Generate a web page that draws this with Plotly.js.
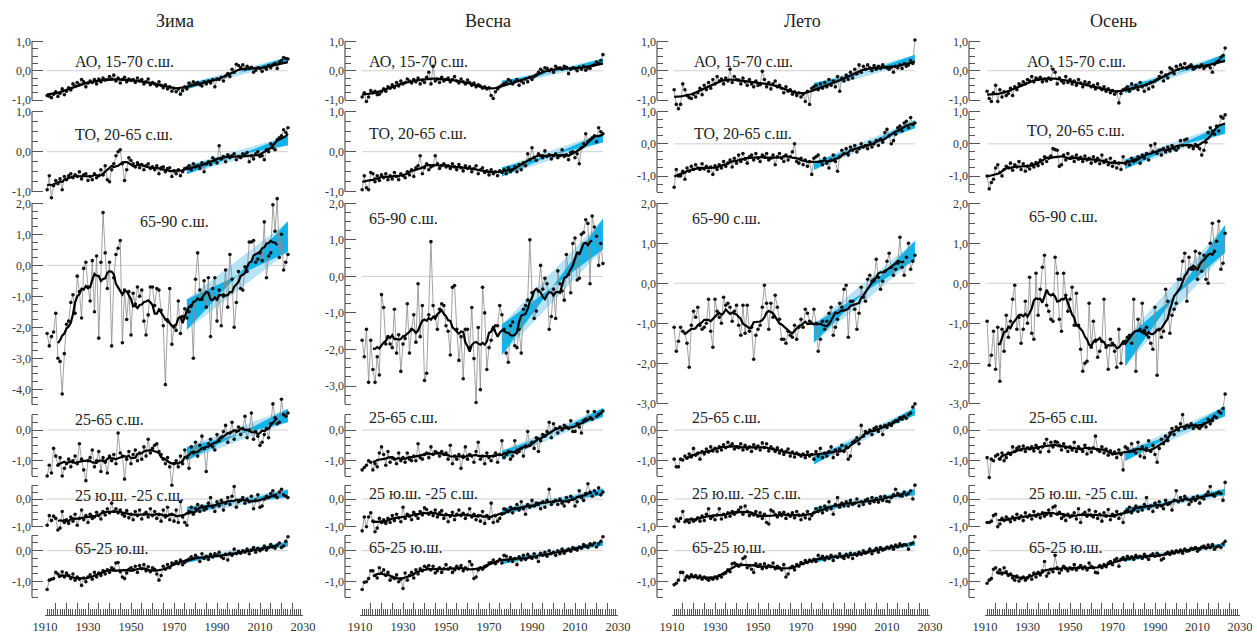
<!DOCTYPE html>
<html><head><meta charset="utf-8">
<script src="https://cdn.plot.ly/plotly-3.0.1.min.js"></script>
<style>body{margin:0;background:#fff}#chart{width:1257px;height:637px}</style>
</head><body><div id="chart"></div>
<script>
// ---------- DATA (anomalies, 1911–2023) ----------
const firstYear = 1911;
const seasons = ["Зима", "Весна", "Лето", "Осень"];
const regions = ["АО, 15-70 с.ш.", "ТО, 20-65 с.ш.", "65-90 с.ш.", "25-65 с.ш.", "25 ю.ш. -25 с.ш.", "65-25 ю.ш."];
const trendStart = 1976;
const xTickLabels = ["1910", "1930", "1950", "1970", "1990", "2010", "2030"];

const winter_AO = [-0.85,-0.87,-0.92,-0.80,-0.72,-0.88,-0.78,-0.62,-0.82,-0.70,
-0.58,-0.66,-0.45,-0.52,-0.40,-0.48,-0.30,-0.38,-0.55,-0.42,
-0.35,-0.40,-0.30,-0.45,-0.28,-0.38,-0.25,-0.32,-0.30,-0.20,
-0.28,-0.15,-0.35,-0.25,-0.42,-0.30,-0.22,-0.38,-0.28,-0.33,
-0.30,-0.40,-0.25,-0.35,-0.30,-0.45,-0.38,-0.28,-0.48,-0.40,
-0.45,-0.52,-0.38,-0.50,-0.58,-0.48,-0.62,-0.55,-0.70,-0.60,
-0.72,-0.62,-0.80,-0.68,-0.55,-0.62,-0.42,-0.50,-0.38,-0.45,
-0.40,-0.48,-0.52,-0.38,-0.45,-0.35,-0.42,-0.30,-0.55,-0.28,
-0.30,-0.22,-0.35,-0.18,-0.10,-0.20,0.05,-0.05,0.22,0.18,
0.10,0.20,0.05,0.15,0.08,0.12,-0.05,0.02,0.10,0.08,
-0.02,0.12,0.05,0.18,0.10,0.20,0.25,0.08,0.30,0.35,
0.45,0.42,0.40];
const winter_PO = [-0.95,-0.60,-1.15,-0.85,-0.72,-0.80,-0.68,-0.95,-0.62,-0.70,
-0.60,-0.55,-0.65,-0.58,-0.62,-0.50,-0.68,-0.58,-0.55,-0.72,
-0.62,-0.70,-0.55,-0.65,-0.60,-0.45,-0.58,-0.35,-0.70,-0.75,
-0.45,-0.30,-0.10,0.00,0.05,-0.30,-0.72,-0.45,-0.15,-0.22,
-0.30,-0.38,-0.28,-0.40,-0.32,-0.45,-0.35,-0.30,-0.42,-0.38,
-0.45,-0.35,-0.55,-0.40,-0.38,-0.50,-0.42,-0.40,-0.62,-0.48,
-0.55,-0.45,-0.60,-0.50,-0.42,-0.40,-0.35,-0.45,-0.30,-0.38,
-0.35,-0.42,-0.28,-0.50,-0.30,-0.25,-0.32,-0.15,-0.20,-0.28,
0.15,-0.18,-0.12,-0.25,-0.08,-0.15,-0.10,-0.05,-0.20,-0.12,
-0.15,-0.05,-0.08,-0.02,-0.25,-0.10,-0.18,-0.05,0.00,-0.12,
-0.10,-0.20,0.05,0.00,0.20,0.10,0.05,0.30,0.35,0.40,
0.55,0.48,0.60];
const winter_N65_90 = [-2.2,-2.6,-2.3,-2.15,-1.55,-3.0,-3.1,-4.15,-2.85,-1.9,
-1.8,-1.2,-0.95,-1.55,-0.35,-0.85,-1.7,-0.1,0.1,-0.7,
-1.15,0.15,-1.5,0.3,-2.35,0.1,1.7,0.4,-0.75,0.1,
-2.6,-0.4,0.35,0.55,0.8,-2.5,-0.8,-1.75,-0.85,-2.25,
-0.9,-1.25,-0.7,-1.0,-0.8,-1.8,-2.25,-1.6,-0.7,-0.7,
-1.3,-0.75,-0.8,-1.45,-1.95,-3.85,-1.8,-0.75,-2.55,-2.0,
-2.1,-1.15,-2.2,-1.65,-1.4,-1.7,-1.5,-1.3,-3.0,-0.45,
0.4,-0.8,-1.1,-0.5,-1.35,-0.4,-2.3,-0.75,-0.4,-1.8,
-0.8,-1.95,-1.0,-0.15,-1.35,0.35,-0.45,-2.0,-1.2,-0.2,
-0.75,-0.8,-0.05,-0.2,0.75,0.75,0.8,0.1,0.2,0.4,
0.15,1.4,-0.4,0.3,0.4,1.95,1.1,2.15,0.25,1.0,
-0.15,0.1,0.35];
const winter_N25_65 = [-1.50,-1.15,-1.40,-0.60,-0.85,-1.15,-0.90,-1.50,-1.25,-1.10,
-0.95,-1.20,-1.00,-0.85,-1.10,-0.45,-0.95,-1.30,-1.65,-1.00,
-0.90,-0.65,-1.20,-1.00,-0.70,-1.35,-0.90,-1.05,-1.40,-0.85,
-1.00,-0.80,-1.10,-0.10,-0.75,-0.85,-1.60,-0.95,-0.70,-1.10,
-0.80,-0.65,-1.00,-0.75,-0.95,-0.55,-0.85,-0.30,-0.75,-0.60,
-0.50,-0.45,-0.70,-0.80,-0.95,-1.10,-0.90,-1.20,-1.80,-1.10,
-1.00,-1.20,-0.85,-1.10,-0.65,-0.90,-1.25,-0.55,-0.75,-0.40,
-0.85,-0.50,-0.20,-0.60,-1.35,-0.45,-0.30,-0.55,-0.65,-0.15,
-0.35,-0.25,-0.05,0.15,-0.40,-0.10,0.25,-0.30,-0.05,0.10,
-0.15,0.05,0.45,-0.25,0.00,0.55,-0.30,-0.05,-0.20,-0.50,
-0.40,-0.15,0.05,-0.25,0.20,0.85,0.40,0.20,0.25,1.00,
0.50,0.45,0.55];
const winter_S25_N25 = [-0.95,-0.60,-0.78,-0.62,-0.70,-1.12,-1.05,-0.45,-0.85,-0.75,
-0.88,-0.65,-0.80,-0.55,-0.95,-0.70,-0.40,-0.75,-0.60,-0.85,
-0.55,-0.70,-0.65,-0.48,-0.60,-0.72,-0.45,-0.58,-0.35,-0.50,
-0.15,-0.45,-0.35,-0.50,-0.40,-0.55,-0.62,-0.42,-0.68,-0.55,
-0.75,-0.45,-0.60,-0.40,-0.72,-0.55,-0.48,-0.65,-0.35,-0.60,
-0.45,-0.70,-0.55,-0.80,-0.40,-0.65,-0.30,-0.75,-0.55,-0.80,
-0.40,-0.85,-0.10,-0.65,-0.85,-0.95,-0.45,-0.30,-0.55,-0.35,
-0.20,-0.45,-0.25,-0.40,-0.35,-0.15,0.05,-0.30,-0.45,-0.10,
-0.25,-0.05,-0.40,-0.15,0.05,-0.20,0.10,0.45,-0.30,-0.10,
-0.05,0.05,-0.15,0.00,-0.10,0.10,-0.35,-0.05,0.15,-0.30,
-0.25,0.00,0.10,0.05,0.20,0.30,0.10,0.05,0.25,0.35,
0.15,0.10,0.05];
const winter_S65_S25 = [-1.25,-0.95,-0.92,-0.90,-0.70,-0.75,-0.82,-0.68,-0.85,-0.72,
-0.80,-0.90,-0.75,-0.95,-0.85,-0.92,-1.12,-0.88,-1.00,-0.85,
-0.78,-0.92,-0.70,-0.85,-0.72,-0.80,-0.65,-0.75,-0.62,-0.70,
-0.55,-0.60,-0.40,-0.38,-0.68,-0.85,-0.90,-0.72,-0.60,-0.55,
-0.62,-0.50,-0.70,-0.48,-0.58,-0.45,-0.65,-0.52,-0.68,-0.55,
-0.60,-0.75,-0.95,-0.80,-0.50,-0.60,-0.45,-0.55,-0.40,-0.42,
-0.35,-0.42,-0.30,-0.45,-0.38,-0.32,-0.28,-0.20,-0.25,-0.15,
-0.22,-0.35,-0.10,-0.25,-0.18,-0.28,-0.12,-0.20,-0.10,-0.15,
-0.05,-0.20,-0.25,-0.12,-0.30,-0.08,-0.15,0.05,-0.10,-0.02,
-0.08,0.00,-0.05,0.05,-0.10,0.02,0.10,-0.05,0.08,0.00,
0.05,0.15,0.02,0.10,0.20,0.12,0.08,0.18,0.25,0.10,
0.15,0.30,0.45];

const spring_AO = [-0.90,-0.75,-1.05,-0.90,-0.68,-0.75,-0.70,-0.82,-0.80,-0.72,
-0.62,-0.70,-0.55,-0.60,-0.48,-0.58,-0.40,-0.52,-0.35,-0.45,
-0.40,-0.28,-0.35,-0.42,-0.30,-0.38,-0.25,-0.45,-0.32,-0.40,
-0.22,-0.05,-0.45,0.15,-0.35,-0.28,-0.40,-0.22,-0.35,-0.30,
-0.25,-0.38,-0.30,-0.20,-0.35,-0.42,-0.28,-0.38,-0.45,-0.32,
-0.40,-0.50,-0.42,-0.55,-0.48,-0.52,-0.60,-0.55,-0.62,-0.58,
-0.85,-0.95,-0.72,-0.62,-0.55,-0.50,-0.45,-0.40,-0.30,-0.35,
-0.45,-0.38,-0.30,-0.50,-0.35,-0.42,-0.28,-0.38,-0.22,-0.30,
-0.20,-0.15,-0.05,0.05,-0.02,0.10,0.08,0.00,0.05,-0.05,
0.15,0.08,0.10,0.05,0.15,0.12,-0.10,0.05,0.10,0.08,
0.00,0.12,0.05,0.15,0.02,0.10,0.08,0.18,0.20,0.30,
0.25,0.35,0.55];
const spring_PO = [-0.95,-0.60,-0.90,-0.95,-0.52,-0.55,-0.75,-0.60,-0.72,-0.58,
-0.65,-0.55,-0.70,-0.60,-0.68,-0.52,-0.62,-0.70,-0.55,-0.60,
-0.65,-0.50,-0.58,-0.45,-0.62,-0.40,-0.35,-0.10,-0.55,-0.40,
-0.30,-0.45,-0.38,-0.35,-0.10,-0.30,-0.42,-0.35,-0.30,-0.38,
-0.35,-0.42,-0.30,-0.38,-0.45,-0.32,-0.40,-0.48,-0.35,-0.42,
-0.38,-0.50,-0.42,-0.35,-0.55,-0.45,-0.40,-0.52,-0.48,-0.58,
-0.45,-0.55,-0.50,-0.60,-0.48,-0.52,-0.45,-0.55,-0.40,-0.50,
-0.45,-0.38,-0.50,-0.32,-0.45,-0.28,-0.35,-0.05,-0.20,0.10,
-0.15,-0.22,-0.05,-0.10,-0.15,0.02,-0.12,-0.08,-0.18,-0.10,
-0.05,-0.15,-0.10,0.05,-0.12,-0.08,-0.20,-0.02,0.00,-0.15,
-0.05,-0.30,0.10,0.20,0.45,0.25,0.30,0.35,0.40,0.25,
0.60,0.50,0.45];
const spring_N65_90 = [-1.75,-2.2,-1.45,-2.9,-1.75,-2.55,-2.9,-2.2,-2.7,-0.5,
-0.85,-1.85,-1.65,-1.85,-1.95,-0.9,-2.1,-1.6,-2.6,-1.85,
-1.7,-0.75,-2.1,-1.45,-1.05,-1.8,-0.2,-1.65,-0.8,-2.85,
-2.65,-1.05,0.95,-0.8,-1.1,-1.45,-0.9,-0.75,-0.8,-1.35,
-1.5,-2.15,-0.3,-0.25,-1.45,-2.3,-1.65,-2.8,-1.45,-1.45,
-1.95,-0.85,-2.25,-3.45,-1.4,-3.1,-0.3,-1.0,-2.55,-1.95,
-1.75,-1.45,-1.35,-1.35,-0.8,-1.05,-1.45,-2.1,-2.35,-1.35,
-1.25,-1.9,-1.95,-1.45,-2.1,-0.9,-0.8,-0.65,1.0,-0.45,
-1.15,-0.95,-0.4,0.3,-0.35,-0.05,-0.2,-1.45,-1.1,-0.35,
-1.15,0.15,-0.2,-0.4,-0.65,0.6,0.05,-0.45,0.9,1.05,
-0.1,-0.05,1.15,1.2,1.55,1.45,-0.2,1.65,1.35,1.1,
0.3,0.9,0.35];
const spring_N25_65 = [-1.30,-1.22,-1.15,-1.00,-1.05,-1.30,-1.10,-1.20,-0.75,-0.55,
-0.80,-1.15,-0.70,-1.05,-0.90,-0.95,-1.10,-0.75,-1.00,-0.90,
-1.05,-0.75,-0.95,-1.00,-0.85,-1.00,-0.45,-0.90,-0.95,-0.80,
-0.75,-0.90,-0.55,-0.80,-0.70,-0.75,-0.85,-0.70,-0.80,-0.75,
-0.95,-0.50,-1.10,-0.85,-0.95,-0.80,-1.25,-0.85,-0.55,-0.95,
-0.80,-0.85,-1.05,-0.70,-0.40,-0.95,-0.85,-1.10,-0.75,-0.90,
-1.00,-0.85,-0.75,-1.05,-0.80,-0.35,-0.90,-0.80,-0.70,-0.95,
-0.85,-0.35,-0.75,-0.70,-0.60,-0.85,-0.55,-0.05,-0.50,-0.40,
-0.60,-0.25,-0.70,-0.35,-0.15,-0.20,-0.05,0.25,-0.25,0.20,
0.05,-0.10,0.10,0.00,0.15,0.10,0.05,0.30,-0.05,-0.05,
0.20,0.10,-0.10,0.30,0.35,0.60,0.40,0.35,0.60,0.45,
0.50,0.55,0.62];
const spring_S25_N25 = [-1.15,-0.65,-1.00,-0.65,-0.50,-0.80,-1.18,-1.05,-0.70,-0.85,
-0.75,-0.88,-0.70,-0.85,-0.60,-0.78,-0.55,-0.68,-0.82,-0.30,
-0.70,-0.55,-0.62,-0.75,-0.48,-0.60,-0.70,-0.45,-0.58,-0.32,
-0.38,-0.55,-0.48,-0.60,-0.40,-0.65,-0.50,-0.42,-0.70,-0.55,
-0.82,-0.62,-0.48,-0.75,-0.55,-0.40,-0.60,-0.52,-0.70,-0.58,
-0.35,-0.65,-0.55,-0.75,-0.60,-0.80,-0.45,-0.88,-0.60,-0.70,
-0.15,-0.85,-0.60,-0.80,-0.70,-0.55,-0.35,-0.40,-0.45,-0.30,
-0.50,-0.35,-0.20,-0.40,-0.10,-0.35,-0.55,-0.20,-0.30,-0.05,
-0.25,-0.15,-0.20,-0.35,-0.10,-0.30,-0.05,0.35,-0.20,-0.10,
-0.05,-0.20,0.00,-0.15,-0.25,0.05,-0.10,0.10,0.00,-0.25,
-0.10,0.30,0.05,-0.05,0.20,0.55,0.25,0.10,0.30,0.20,
0.40,0.15,0.25];
const spring_S65_S25 = [-1.25,-1.02,-1.00,-0.90,-0.65,-0.65,-0.80,-0.88,-0.55,-0.72,
-0.62,-0.80,-0.70,-0.95,-0.85,-0.90,-0.78,-1.00,-0.92,-1.22,
-0.72,-0.95,-0.80,-0.70,-0.88,-0.62,-0.75,-0.58,-0.65,-0.50,
-0.55,-0.48,-0.62,-0.50,-0.72,-0.65,-0.55,-0.70,-0.58,-0.45,
-0.60,-0.55,-0.70,-0.62,-0.50,-0.58,-0.48,-0.65,-0.55,-0.60,
-0.35,-0.45,-0.90,-0.85,-0.62,-0.55,-0.60,-0.50,-0.48,-0.40,
-0.38,-0.30,-0.42,-0.35,-0.28,-0.40,-0.15,-0.18,-0.32,-0.22,
-0.35,-0.25,-0.45,-0.20,-0.30,-0.15,-0.28,-0.12,-0.20,-0.25,
-0.10,-0.22,-0.35,-0.08,-0.15,-0.05,-0.18,0.00,-0.10,-0.05,
-0.15,0.00,-0.10,0.05,-0.08,0.00,0.05,-0.02,0.10,0.05,
0.02,0.12,0.08,0.20,0.15,0.10,0.22,0.18,0.25,0.12,
0.22,0.30,0.45];

const summer_AO = [-0.65,-1.15,-1.30,-1.15,-0.45,-0.65,-0.85,-0.92,-0.95,-0.80,
-0.90,-0.75,-0.60,-0.82,-0.50,-0.65,-0.40,-0.60,-0.30,-0.45,
-0.20,-0.35,-0.28,-0.45,-0.25,-0.35,0.05,-0.40,-0.20,-0.30,
-0.32,-0.45,-0.25,-0.38,-0.50,-0.30,-0.45,-0.55,-0.35,-0.50,
-0.48,-0.02,-0.30,-0.55,-0.40,-0.62,-0.45,-0.35,-0.55,-0.50,
-0.60,-0.75,-0.55,-0.70,-0.65,-0.80,-0.72,-0.85,-0.75,-0.90,
-0.80,-1.05,-0.70,-1.15,-0.60,-0.55,-0.50,-0.65,-0.45,-0.60,
-0.40,-0.55,-0.30,-0.50,-0.35,-0.55,-0.20,-0.70,-0.25,-0.35,
-0.15,-0.30,-0.05,-0.25,0.05,-0.10,0.20,-0.05,0.15,0.05,
0.20,0.10,0.00,0.18,0.05,0.15,0.08,0.20,0.12,0.10,
0.05,0.12,-0.05,0.15,0.10,0.20,0.08,0.25,0.15,0.20,
0.35,0.25,1.05];
const summer_PO = [-1.35,-0.80,-1.00,-1.00,-0.85,-1.10,-0.75,-0.85,-0.70,-0.80,
-0.65,-0.75,-0.80,-0.62,-0.78,-0.70,-0.85,-0.72,-0.95,-0.68,
-0.80,-0.65,-0.75,-0.55,-0.70,-0.60,-0.50,-0.72,-0.45,-0.60,
-0.35,-0.55,-0.30,-0.48,-0.60,-0.40,-0.35,-0.50,-0.30,-0.45,
-0.55,-0.35,-0.40,-0.30,-0.50,-0.45,-0.35,-0.65,-0.40,-0.30,
-0.45,-0.55,-0.35,-0.50,-0.40,-0.25,0.00,-0.55,-0.60,-0.45,
-0.65,-0.50,-0.70,-0.55,-0.95,-0.45,-0.40,-0.35,-0.55,-0.65,
-0.45,-0.60,-0.75,-0.50,-0.35,-0.55,-0.85,-0.40,-0.20,-0.30,
-0.15,-0.35,-0.10,-0.20,-0.05,-0.25,-0.15,0.00,-0.10,-0.05,
-0.15,0.05,-0.10,0.00,0.10,-0.05,0.15,0.05,0.35,0.45,
0.25,0.00,0.10,0.30,0.50,0.55,0.40,0.65,0.70,0.50,
0.82,0.60,0.65];
const summer_N65_90 = [-1.1,-1.7,-1.45,-1.1,-1.2,-1.25,-1.5,-2.1,-1.05,-0.7,
-0.85,-0.6,-1.05,-1.15,-1.1,-1.0,-0.4,-1.2,-1.6,-0.4,
-0.7,-0.85,-1.0,-0.35,-0.55,-0.5,-0.6,-0.95,-0.7,-0.55,
-1.05,-1.3,-0.55,-1.25,-0.55,-1.2,-1.1,-1.9,-1.3,-1.15,
-1.05,-0.6,-0.05,-0.5,-1.15,-0.5,-0.85,-0.3,-0.6,-0.9,
-1.4,-1.4,-1.5,-1.2,-1.3,-1.35,-1.05,-1.4,-1.1,-0.9,
-1.1,-0.65,-0.75,-0.95,-1.0,-0.65,-1.0,-1.7,-1.4,-0.95,
-1.15,-0.95,-0.75,-0.6,-1.3,-1.1,-0.9,-0.5,-0.6,-0.15,
-0.05,-1.35,-0.45,-0.45,-0.65,-1.15,-0.75,-0.1,-0.35,-0.45,
0.1,0.2,0.05,0.1,0.6,0.15,-0.15,0.05,0.3,0.55,
0.75,0.4,0.2,0.35,0.5,1.15,0.4,0.2,0.65,1.0,
0.35,0.55,0.7];
const summer_N25_65 = [-0.95,-1.20,-1.20,-0.95,-0.98,-0.85,-0.92,-0.78,-0.88,-0.60,
-0.82,-0.75,-0.95,-0.70,-0.78,-0.62,-0.72,-0.55,-0.68,-0.60,
-0.70,-0.55,-0.65,-0.48,-0.58,-0.40,-0.52,-0.45,-0.62,-0.55,
-0.58,-0.45,-0.65,-0.50,-0.62,-0.55,-0.70,-0.48,-0.60,-0.52,
-0.65,-0.42,-0.58,-0.45,-0.68,-0.55,-0.62,-0.70,-0.58,-0.75,
-0.65,-0.80,-0.70,-0.62,-0.85,-0.72,-0.88,-0.75,-0.80,-0.85,
-0.78,-0.90,-0.72,-0.85,-0.80,-0.95,-0.70,-0.85,-0.60,-0.90,
-0.75,-0.85,-0.70,-0.55,-0.90,-0.65,-0.80,-0.62,-0.50,-0.70,
-0.55,-0.95,-0.85,-0.40,-0.35,-0.25,-0.45,0.15,-0.20,-0.05,
-0.10,0.00,-0.15,0.05,0.10,-0.05,0.12,-0.15,0.15,0.08,
0.20,0.15,0.25,0.30,0.28,0.40,0.35,0.45,0.38,0.50,
0.55,0.75,0.85];
const summer_S25_N25 = [-1.00,-0.72,-0.80,-0.70,-0.45,-0.82,-0.78,-0.85,-0.72,-0.80,
-0.75,-0.68,-0.80,-0.62,-0.78,-0.55,-0.35,-0.70,-0.62,-0.75,
-0.58,-0.35,-0.72,-0.55,-0.65,-0.50,-0.62,-0.45,-0.55,-0.48,
-0.40,-0.30,-0.55,-0.25,-0.45,-0.60,-0.52,-0.58,-0.45,-0.62,
-0.50,-0.70,-0.55,-0.85,-0.90,-0.40,-0.45,-0.55,-0.65,-0.50,
-0.60,-0.48,-0.70,-0.55,-0.62,-0.50,-0.68,-0.45,-0.58,-0.75,
-0.55,-0.68,-0.45,-0.72,-0.60,-0.50,-0.35,-0.45,-0.30,-0.50,
-0.25,-0.40,-0.10,-0.35,-0.55,-0.20,0.05,-0.30,-0.15,-0.25,
-0.10,-0.25,-0.05,-0.20,-0.15,0.00,-0.25,-0.10,-0.20,-0.05,
0.00,-0.15,0.05,-0.10,0.02,-0.12,0.08,-0.05,0.10,-0.08,
-0.10,0.05,0.15,0.35,0.20,0.12,0.10,0.25,0.15,0.20,
0.30,0.00,0.50];
const summer_S65_S25 = [-1.10,-1.05,-0.95,-0.70,-0.70,-0.95,-0.82,-0.88,-0.78,-0.85,
-0.80,-0.88,-0.82,-0.92,-0.85,-0.90,-0.95,-0.88,-0.92,-0.85,
-0.90,-0.80,-0.85,-0.75,-0.72,-0.62,-0.68,-0.42,-0.40,-0.45,
-0.50,-0.45,-0.25,-0.20,-0.55,-0.48,-0.60,-0.70,-0.42,-0.50,
-0.45,-0.58,-0.42,-0.55,-0.48,-0.52,-0.40,-0.58,-0.50,-0.55,
-0.62,-0.45,-0.85,-0.75,-0.55,-0.50,-0.62,-0.45,-0.50,-0.38,
-0.42,-0.32,-0.38,-0.30,-0.35,-0.28,-0.35,-0.15,-0.25,-0.18,
-0.30,-0.20,-0.25,-0.15,-0.32,-0.18,-0.22,-0.10,-0.20,-0.25,
-0.12,-0.20,-0.08,-0.25,-0.10,-0.15,-0.05,-0.12,0.00,-0.08,
-0.05,0.05,-0.10,0.00,0.08,-0.05,0.10,0.02,0.05,0.12,
0.08,0.15,0.05,0.18,0.12,0.22,0.15,0.20,0.18,0.05,
0.22,0.25,0.45];

const autumn_AO = [-0.70,-0.95,-1.05,-0.75,-0.50,-1.05,-0.65,-0.90,-0.72,-0.85,
-0.78,-0.60,-0.85,-0.55,-0.65,-0.45,-0.50,-0.38,-0.45,-0.30,
-0.35,-0.20,-0.38,-0.25,-0.30,-0.22,-0.38,-0.28,-0.35,-0.25,
-0.30,0.05,-0.05,-0.45,-0.25,-0.35,-0.42,-0.20,-0.40,-0.30,
-0.45,-0.35,-0.50,-0.30,-0.42,-0.55,-0.38,-0.48,-0.40,-0.55,
-0.50,-0.62,-0.45,-0.58,-0.65,-0.55,-0.70,-0.62,-0.75,-0.68,
-0.80,-0.72,-1.10,-0.78,-0.65,-0.62,-0.55,-0.70,-0.45,-0.60,
-0.50,-0.65,-0.40,-0.55,-0.70,-0.48,-0.62,-0.40,-0.55,-0.35,
-0.30,-0.20,-0.05,-0.35,-0.15,-0.25,0.10,0.05,-0.10,0.15,
0.05,0.20,0.10,0.25,0.08,0.15,0.20,0.05,0.10,0.15,
0.12,0.20,0.08,0.15,0.18,0.10,-0.05,0.22,0.30,0.35,
0.45,0.52,0.78];
const autumn_PO = [-1.00,-1.40,-1.20,-1.10,-0.75,-0.65,-0.90,-1.00,-0.80,-0.70,
-0.75,-0.60,-0.82,-0.65,-0.72,-0.55,-0.80,-0.62,-0.85,-0.70,
-0.78,-0.62,-0.72,-0.58,-0.68,-0.50,-0.62,-0.40,-0.55,-0.45,
-0.38,-0.15,-0.18,-0.20,-0.70,-0.65,-0.35,-0.50,-0.30,-0.45,
-0.40,-0.55,-0.35,-0.48,-0.42,-0.55,-0.38,-0.50,-0.45,-0.60,
-0.40,-0.55,-0.45,-0.62,-0.35,-0.58,-0.50,-0.65,-0.45,-0.70,
-0.55,-0.75,-0.60,-0.80,-0.40,-0.62,-0.55,-0.65,-0.45,-0.55,
-0.50,-0.40,-0.60,-0.35,-0.45,-0.30,-0.50,-0.05,-0.25,0.00,
-0.30,-0.20,-0.35,-0.15,-0.25,-0.10,-0.22,-0.05,-0.15,-0.20,
-0.12,0.10,-0.05,0.12,0.15,-0.10,-0.05,-0.15,-0.02,-0.08,
-0.15,-0.35,-0.20,0.05,0.35,0.50,0.40,0.30,0.55,0.40,
0.85,0.80,0.90];
const autumn_N65_90 = [-0.95,-2.05,-1.8,-1.2,-2.15,-1.1,-2.45,-1.15,-1.7,-0.8,
-1.35,-0.95,-0.4,-0.05,-1.15,-0.85,-1.5,-1.15,-0.45,-1.0,
0.15,-1.25,-1.4,0.25,-0.8,-0.15,0.4,0.7,-0.55,-0.7,
-0.9,-0.95,0.65,0.25,-0.9,-1.2,0.25,-0.3,-0.7,-0.4,
-0.1,-1.05,-0.25,-1.05,-1.65,-2.2,-2.0,-1.95,-0.5,-1.6,
-0.95,-1.45,-1.85,-1.7,-1.45,-0.4,-1.6,-2.15,-1.4,-1.5,
-1.7,-2.1,-1.15,-2.0,-1.5,-1.45,-1.35,-1.3,-1.5,-0.4,
-2.2,-0.9,-1.15,-0.5,-1.25,-1.1,-1.35,-1.5,-1.65,-0.6,
-2.3,-1.15,-1.35,-1.2,-0.15,-0.45,-1.25,-0.8,-0.65,-0.5,
0.1,0.1,0.55,0.75,-0.45,0.65,0.35,0.35,0.8,0.1,
0.75,0.3,0.7,0.1,0.0,1.0,1.5,0.8,1.05,1.55,
0.35,0.5,1.25];
const autumn_N25_65 = [-0.90,-1.55,-0.95,-1.00,-0.85,-0.80,-0.95,-0.75,-1.00,-0.90,
-0.75,-0.80,-0.55,-0.70,-0.60,-0.55,-0.65,-0.52,-0.70,-0.58,
-0.62,-0.55,-0.68,-0.50,-0.60,-0.72,-0.55,-0.45,-0.30,-0.70,
-0.40,-0.55,-0.38,-0.40,-0.50,-0.65,-0.45,-0.58,-0.70,-0.55,
-0.65,-0.40,-0.70,-0.55,-0.62,-0.70,-0.50,-0.78,-0.60,-0.72,
-0.58,-0.20,-0.65,-0.70,-0.55,-0.75,-0.62,-0.82,-0.68,-0.78,
-0.72,-0.90,-0.65,-0.80,-1.30,-0.55,-0.60,-0.70,-0.45,-0.65,
-0.75,-0.40,-0.85,-0.55,-0.90,-0.60,-0.35,-0.70,-0.50,-0.80,
-1.05,-0.60,-0.30,-0.45,-0.20,-0.35,-0.10,0.05,-0.15,0.10,
0.00,0.20,0.50,0.05,0.15,0.10,0.20,0.05,0.15,0.10,
0.05,0.12,0.20,0.10,0.35,0.20,0.30,0.45,0.40,0.60,
0.55,0.70,1.17];
const autumn_S25_N25 = [-0.85,-0.85,-0.80,-0.60,-0.55,-1.00,-0.90,-0.70,-0.78,-0.65,
-0.72,-0.82,-0.65,-0.75,-0.55,-0.70,-0.62,-0.78,-0.50,-0.65,
-0.58,-0.72,-0.45,-0.62,-0.55,-0.68,-0.50,-0.62,-0.55,-0.40,
-0.60,-0.30,-0.25,-0.55,-0.48,-0.70,-0.62,-0.78,-0.55,-0.65,
-0.60,-0.50,-0.72,-0.35,-0.85,-0.55,-0.48,-0.62,-0.40,-0.58,
-0.65,-0.45,-0.70,-0.55,-0.80,-0.50,-0.62,-0.38,-0.75,-0.55,
-0.62,-0.45,-0.70,-0.55,-0.85,-0.45,-0.40,-0.30,-0.50,-0.35,
-0.25,-0.45,-0.30,-0.40,-0.20,0.05,-0.35,-0.25,-0.45,-0.15,
-0.30,-0.10,-0.25,-0.35,-0.05,-0.20,-0.15,-0.40,-0.05,0.30,
-0.10,0.05,-0.05,0.10,0.00,-0.20,-0.10,0.05,-0.05,0.10,
-0.15,0.05,0.00,0.15,0.25,0.45,0.15,0.10,0.20,0.25,
0.20,-0.05,0.60];
const autumn_S65_S25 = [-1.05,-0.95,-0.90,-0.60,-0.55,-0.70,-0.62,-0.75,-0.55,-0.68,
-0.80,-0.75,-0.88,-0.95,-0.82,-0.98,-0.90,-0.85,-0.95,-0.88,
-0.80,-0.92,-0.72,-0.85,-0.70,-0.78,-0.65,-0.35,-0.82,-0.72,
-0.60,-0.68,-0.15,-0.55,-0.72,-0.62,-0.50,-0.58,-0.65,-0.55,
-0.60,-0.45,-0.62,-0.55,-0.48,-0.58,-0.52,-0.62,-0.40,-0.50,
-0.55,-0.70,-0.72,-0.48,-0.55,-0.45,-0.52,-0.40,-0.35,-0.45,
-0.30,-0.25,-0.50,-0.28,-0.22,-0.30,-0.18,-0.25,-0.20,-0.28,
-0.15,-0.22,-0.18,-0.25,-0.12,-0.20,-0.28,-0.15,-0.10,-0.18,
-0.08,-0.15,-0.30,-0.25,-0.10,-0.05,-0.12,-0.02,-0.08,0.00,
-0.05,0.02,-0.08,0.05,-0.02,0.00,0.08,0.05,0.10,-0.02,
0.05,0.12,0.15,0.08,0.18,0.10,0.20,0.05,0.12,0.15,
0.10,0.22,0.30];

const seriesBySeason = [
  [winter_AO, winter_PO, winter_N65_90, winter_N25_65, winter_S25_N25, winter_S65_S25],
  [spring_AO, spring_PO, spring_N65_90, spring_N25_65, spring_S25_N25, spring_S65_S25],
  [summer_AO, summer_PO, summer_N65_90, summer_N25_65, summer_S25_N25, summer_S65_S25],
  [autumn_AO, autumn_PO, autumn_N65_90, autumn_N25_65, autumn_S25_N25, autumn_S65_S25]
];

// ---------- GEOMETRY (pixels) ----------
const W = 1257, H = 637;
const colGeom = [
  {axis: 32, x1910: 45, x2030: 303, title: 175},
  {axis: 345, x1910: 360, x2030: 618, title: 488},
  {axis: 657, x1910: 672, x2030: 930, title: 802},
  {axis: 969, x1910: 985, x2030: 1240, title: 1113}
];
function rowGeom(c, r) {
  const common = [
    {v1: 1, p1: 41.5, v2: -1, p2: 100, lo: -1, hi: 1, lab: [1, 0, -1]},
    {v1: 1, p1: 111.7, v2: -1, p2: 191.7, lo: -1, hi: 1, lab: [1, 0, -1]},
    {v1: 2, p1: 203.3, v2: -4, p2: 389.3, lo: -4.5, hi: 2, lab: [2, 1, 0, -1, -2, -3, -4]},
    {v1: 0, p1: 430, v2: -1, p2: 460.7, lo: -1.5, hi: 0.5, lab: [0, -1]},
    {v1: 0, p1: 499, v2: -1, p2: 526.7, lo: -1, hi: 0.5, lab: [0, -1]},
    {v1: 0, p1: 550.7, v2: -1, p2: 581.7, lo: -1.5, hi: 0.5, lab: [0, -1]}
  ];
  let g = common[r];
  if (c === 1 && r === 2) g = {v1: 2, p1: 203.3, v2: -3, p2: 386, lo: -3.5, hi: 2, lab: [2, 1, 0, -1, -2, -3]};
  if (c >= 2 && r === 1) g = {v1: 1, p1: 111.7, v2: -1, p2: 176, lo: -1.5, hi: 1, lab: [1, 0, -1]};
  if (c >= 2 && r === 2) g = {v1: 2, p1: 203.3, v2: -3, p2: 403.3, lo: -3, hi: 2, lab: [2, 1, 0, -1, -2, -3]};
  return g;
}
const labelPos = [
  [[73, 61.7], [73, 135], [138, 221.7], [73, 419], [73, 495], [73, 548]],
  [[367, 61.7], [367, 133], [367, 219], [367, 417], [367, 493], [367, 547]],
  [[692, 61.7], [692, 133], [690, 219], [690, 417], [690, 493], [690, 547]],
  [[1025, 61.7], [1025, 130], [1027, 216], [1027, 417], [1027, 493], [1027, 547]]
];

// ---------- HELPERS ----------
const FONT = "'Liberation Serif', 'Times New Roman', serif";
function fmt(v) { return (v < 0 ? "-" : "") + Math.abs(v).toFixed(1).replace(".", ","); }
function axId(n) { return n === 1 ? "" : String(n); }
function runMean(v, half, partial) {
  const out = [];
  for (let i = 0; i < v.length; i++) {
    const a = i - half, b = i + half;
    if (!partial && (a < 0 || b >= v.length)) { out.push(null); continue; }
    let s = 0, k = 0;
    for (let j = Math.max(0, a); j <= Math.min(v.length - 1, b); j++) { s += v[j]; k++; }
    out.push(s / k);
  }
  return out;
}
function trendFit(yrs, vals) {
  const xs = [], ys = [];
  yrs.forEach((y, i) => { if (y >= trendStart) { xs.push(y); ys.push(vals[i]); } });
  const n = xs.length;
  const mx = xs.reduce((a, b) => a + b, 0) / n, my = ys.reduce((a, b) => a + b, 0) / n;
  let sxy = 0, sxx = 0;
  for (let i = 0; i < n; i++) { sxy += (xs[i] - mx) * (ys[i] - my); sxx += (xs[i] - mx) ** 2; }
  const b = sxy / sxx;
  let ss = 0;
  for (let i = 0; i < n; i++) { const r = ys[i] - (my + b * (xs[i] - mx)); ss += r * r; }
  const s = Math.sqrt(ss / (n - 2));
  return {t0: xs[0], t1: xs[n - 1], tm: mx, ym: my, b: b, w: 0.6 * s + 0.03};
}

// ---------- BUILD ----------
const data = [], shapes = [], annotations = [];
const layout = {
  width: W, height: H, margin: {l: 0, r: 0, t: 0, b: 0},
  paper_bgcolor: "#ffffff", plot_bgcolor: "rgba(0,0,0,0)",
  showlegend: false, font: {family: FONT, color: "#222"},
  separators: ", "
};
const PAD = 26;
const TXT = "#333";

for (let c = 0; c < 4; c++) {
  const cg = colGeom[c];
  const pxPerYear = (cg.x2030 - cg.x1910) / 120;
  annotations.push({text: seasons[c], xref: "paper", yref: "paper", x: cg.title / W, y: 1 - 21 / H,
    xanchor: "center", yanchor: "middle", showarrow: false, font: {family: FONT, size: 18, color: "#222"}});
  for (let r = 0; r < 6; r++) {
    const n = c * 6 + r + 1, id = axId(n);
    const g = rowGeom(c, r);
    const vAt = p => g.v1 + (p - g.p1) * (g.v2 - g.v1) / (g.p2 - g.p1);
    const pAt = v => g.p1 + (v - g.v1) * (g.p2 - g.p1) / (g.v2 - g.v1);
    const pTop = pAt(g.hi) - PAD, pBot = pAt(g.lo) + PAD;
    const xr0 = 1910 - (cg.x1910 - cg.axis) / pxPerYear;
    layout["xaxis" + id] = {domain: [cg.axis / W, cg.x2030 / W], range: [xr0, 2030], anchor: "y" + id,
      visible: false, fixedrange: true};
    const minorVals = [];
    for (let v = g.lo; v <= g.hi + 1e-9; v += 0.25) {
      if (!g.lab.some(m => Math.abs(m - v) < 1e-9)) minorVals.push(Math.round(v * 100) / 100);
    }
    layout["yaxis" + id] = {domain: [1 - pBot / H, 1 - pTop / H], range: [vAt(pBot), vAt(pTop)],
      anchor: "x" + id, tickmode: "array", tickvals: g.lab, ticktext: g.lab.map(fmt),
      ticks: "inside", ticklen: 11, tickwidth: 1, tickcolor: "#555",
      showline: false, showgrid: false, zeroline: false, fixedrange: true,
      tickfont: {family: FONT, size: 12, color: TXT},
      minor: {tickmode: "array", tickvals: minorVals, ticks: "inside", ticklen: 6, tickwidth: 1, tickcolor: "#555", showgrid: false}};
    shapes.push({type: "line", xref: "paper", yref: "y" + id, x0: cg.axis / W, x1: cg.axis / W,
      y0: g.lo, y1: g.hi, line: {color: "#555", width: 1.2}});
    const vals = seriesBySeason[c][r];
    const yrs = vals.map((_, i) => firstYear + i);
    shapes.push({type: "line", xref: "x" + id, yref: "y" + id, x0: yrs[0], x1: yrs[yrs.length - 1],
      y0: 0, y1: 0, layer: "below", line: {color: "#cfcfcf", width: 1}});
    const f = trendFit(yrs, vals);
    const yf = t => f.ym + f.b * (t - f.tm);
    data.push({type: "scatter", mode: "lines", xaxis: "x" + id, yaxis: "y" + id, hoverinfo: "skip",
      x: [f.t0, f.t1, f.t1, f.t0, f.t0], y: [yf(f.t0) + f.w, yf(f.t1) + f.w, yf(f.t1) - f.w, yf(f.t0) - f.w, yf(f.t0) + f.w],
      fill: "toself", fillcolor: "rgba(170,222,244,0.85)", line: {width: 0}});
    data.push({type: "scatter", mode: "lines", xaxis: "x" + id, yaxis: "y" + id, hoverinfo: "skip",
      x: [f.t0, f.tm, f.t0, f.t0], y: [yf(f.t0) + f.w, yf(f.tm), yf(f.t0) - f.w, yf(f.t0) + f.w],
      fill: "toself", fillcolor: "#10b4ea", line: {width: 0}});
    data.push({type: "scatter", mode: "lines", xaxis: "x" + id, yaxis: "y" + id, hoverinfo: "skip",
      x: [f.t1, f.tm, f.t1, f.t1], y: [yf(f.t1) + f.w, yf(f.tm), yf(f.t1) - f.w, yf(f.t1) + f.w],
      fill: "toself", fillcolor: "#10b4ea", line: {width: 0}});
    data.push({type: "scatter", mode: "lines+markers", xaxis: "x" + id, yaxis: "y" + id, cliponaxis: false,
      x: yrs, y: vals, line: {color: "#8a8a8a", width: 0.8}, marker: {color: "#111", size: 3.6}});
    let sm;
    if (r === 0) sm = runMean(runMean(vals, 5, true), 5, true);
    else if (r === 1) sm = runMean(vals, 5, true);
    else sm = runMean(vals, 5, false);
    data.push({type: "scatter", mode: "lines", xaxis: "x" + id, yaxis: "y" + id, connectgaps: false,
      x: yrs, y: sm, line: {color: "#000", width: 2.2}});
    const lp = labelPos[c][r];
    annotations.push({text: regions[r], xref: "paper", yref: "paper", x: lp[0] / W, y: 1 - lp[1] / H,
      xanchor: "left", yanchor: "middle", showarrow: false, font: {family: FONT, size: 16, color: "#222"}});
  }
  // bottom time axis
  const n = 25 + c, id = axId(n);
  const majors = [], minors = [];
  for (let y = 1910; y <= 2030; y++) { if (y % 5 === 0) majors.push(y); else minors.push(y); }
  layout["xaxis" + id] = {domain: [cg.x1910 / W, cg.x2030 / W], range: [1910, 2030], anchor: "y" + id,
    tickmode: "array", tickvals: majors,
    ticktext: majors.map(y => xTickLabels.includes(String(y)) ? String(y) : ""),
    ticks: "inside", ticklen: 12, tickwidth: 1, tickcolor: "#555", showline: true, linecolor: "#555", linewidth: 1,
    ticklabeloverflow: "allow",
    showgrid: false, zeroline: false, fixedrange: true, tickfont: {family: FONT, size: 12.5, color: TXT},
    minor: {tickmode: "array", tickvals: minors, ticks: "inside", ticklen: 6, tickwidth: 1, tickcolor: "#555", showgrid: false}};
  layout["yaxis" + id] = {domain: [1 - 615 / H, 1 - 595 / H], range: [0, 1], anchor: "x" + id, visible: false, fixedrange: true};
  data.push({type: "scatter", mode: "markers", xaxis: "x" + id, yaxis: "y" + id, x: [1910], y: [-5],
    marker: {size: 0, opacity: 0}, hoverinfo: "skip", cliponaxis: true});
}
layout.shapes = shapes;
layout.annotations = annotations;
Plotly.newPlot("chart", data, layout, {displayModeBar: false, staticPlot: true});
</script>
</body></html>
